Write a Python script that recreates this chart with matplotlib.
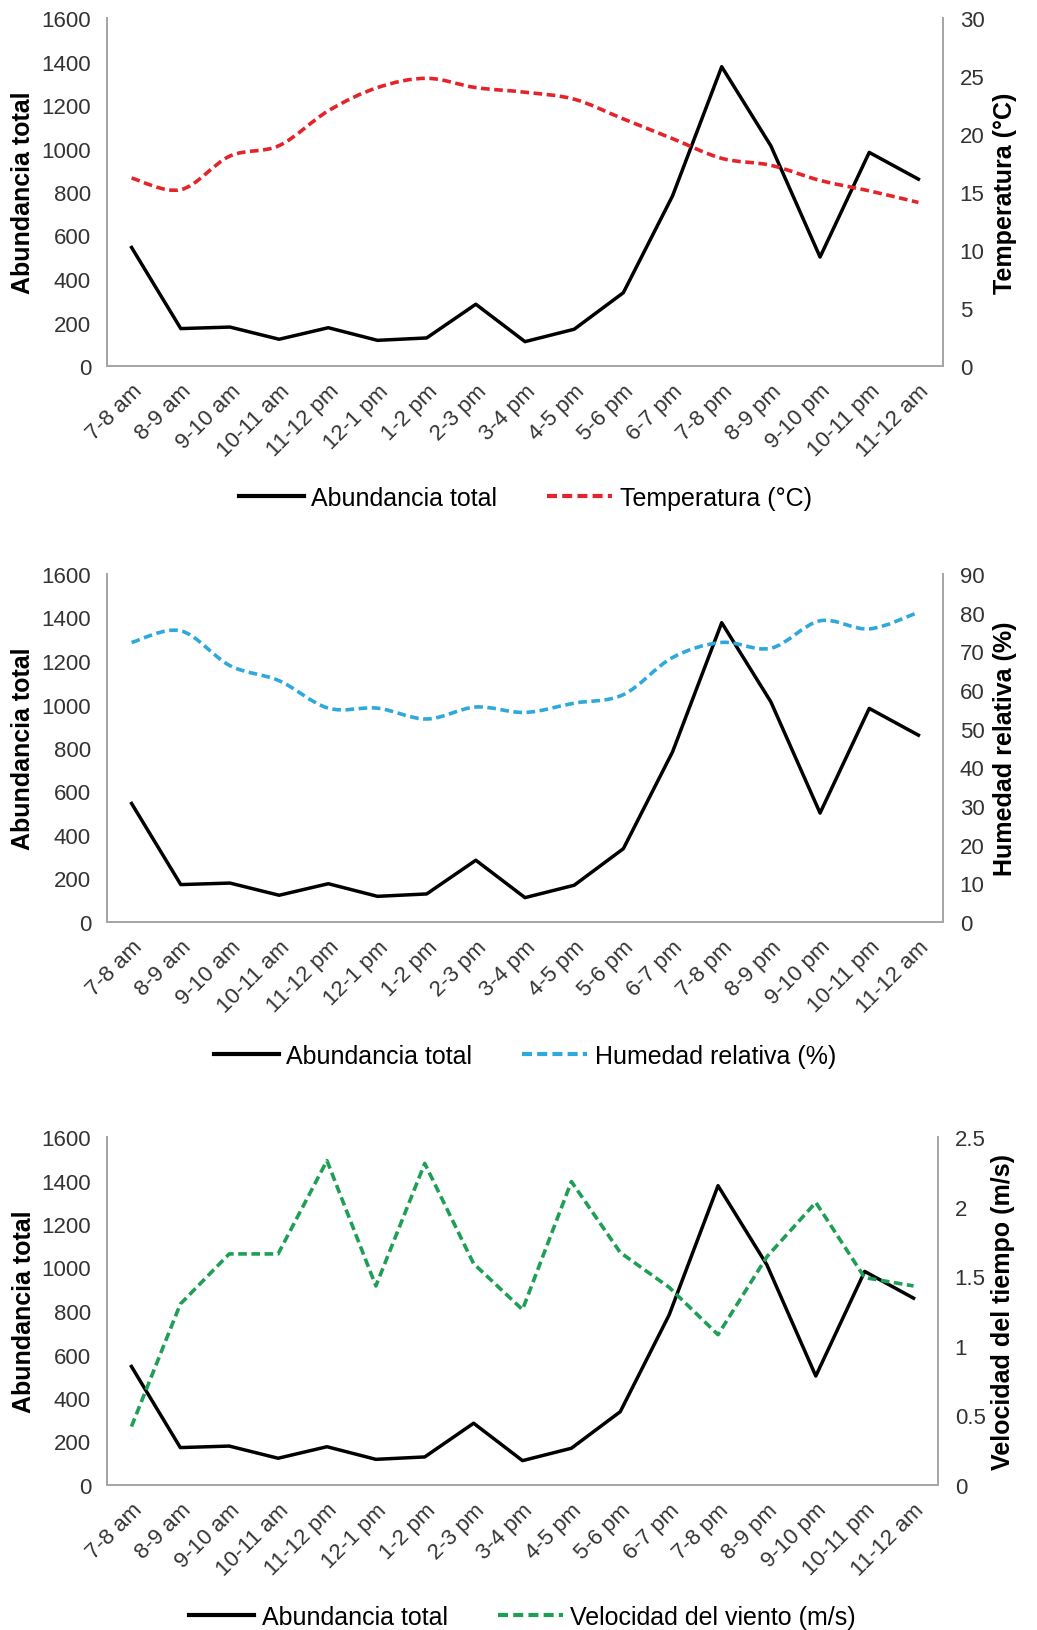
import numpy as np
import matplotlib
matplotlib.use("Agg")
import matplotlib.pyplot as plt
from matplotlib.path import Path
from matplotlib.patches import PathPatch
from matplotlib.lines import Line2D

plt.rcParams['font.family'] = ['Liberation Sans', 'DejaVu Sans']

# ---- data ----
horas = ["7-8 am", "8-9 am", "9-10 am", "10-11 am", "11-12 pm", "12-1 pm",
         "1-2 pm", "2-3 pm", "3-4 pm", "4-5 pm", "5-6 pm", "6-7 pm",
         "7-8 pm", "8-9 pm", "9-10 pm", "10-11 pm", "11-12 am"]

abundancia = [545, 172, 179, 123, 176, 118, 129, 284, 112, 169, 337,
              782, 1376, 1012, 501, 982, 859]

temperatura = [16.2, 15.2, 18.1, 19.0, 22.0, 24.0, 24.8, 24.0, 23.6, 23.0,
               21.3, 19.6, 17.9, 17.3, 16.0, 15.1, 14.1]

humedad = [72.3, 75.3, 66.3, 62.4, 55.3, 55.3, 52.5, 55.6, 54.2, 56.6,
           58.8, 68.4, 72.3, 70.8, 77.9, 75.8, 80.1]

viento = [0.42, 1.30, 1.66, 1.66, 2.33, 1.43, 2.31, 1.59, 1.26, 2.18,
          1.67, 1.42, 1.08, 1.64, 2.03, 1.49, 1.43]

GRIS = '#a6a6a6'
TXT = '#333333'
DASH = (0, (2.4, 1.25))


def curva_suave(ax, x, y, color, lw):
    # curva tipo Excel "línea suavizada" (Bezier por los puntos)
    x = np.asarray(x, float)
    y = np.asarray(y, float)
    pts = np.column_stack([x, y])
    verts = [pts[0]]
    codes = [Path.MOVETO]
    n = len(pts)
    for i in range(n - 1):
        p0 = pts[i - 1] if i > 0 else pts[i]
        p1 = pts[i]
        p2 = pts[i + 1]
        p3 = pts[i + 2] if i + 2 < n else pts[i + 1]
        c1 = p1 + (p2 - p0) / 6.0
        c2 = p2 - (p3 - p1) / 6.0
        verts += [c1, c2, p2]
        codes += [Path.CURVE4] * 3
    patch = PathPatch(Path(verts, codes), fill=False, edgecolor=color,
                      linewidth=lw, linestyle=DASH, capstyle='butt')
    ax.add_patch(patch)


def panel(rect, serie, color, ylim2, yticks2, ylabel2, leg_label, leg_y,
          suave, label_x2):
    ax = fig.add_axes(rect)
    x = np.arange(len(horas))
    ax.plot(x, abundancia, color='black', lw=2.5, zorder=3)
    ax.set_xlim(-0.5, len(horas) - 0.5)
    ax.set_ylim(0, 1600)
    ax.set_yticks(np.arange(0, 1601, 200))
    ax.set_xticks(x)
    ax.set_xticklabels(horas, rotation=45, ha='right', va='top',
                       rotation_mode='anchor')
    ax.tick_params(axis='both', length=0, labelsize=16, colors=TXT)
    ax.tick_params(axis='y', pad=11.5)
    ax.tick_params(axis='x', pad=10)
    ax.set_ylabel("Abundancia total", fontsize=18, fontweight='bold',
                  color='black')
    ax.yaxis.set_label_coords(-0.086, 0.5)

    ax2 = ax.twinx()
    if suave:
        curva_suave(ax2, x, serie, color, 2.6)
    else:
        ax2.plot(x, serie, color=color, lw=2.6, linestyle=DASH,
                 dash_capstyle='butt')
    ax2.set_ylim(*ylim2)
    ax2.set_yticks(yticks2)
    ax2.tick_params(axis='y', length=0, labelsize=16, colors=TXT, pad=12)
    ax2.set_ylabel(ylabel2, fontsize=18, fontweight='bold', color='black')
    ax2.yaxis.set_label_coords(label_x2, 0.5)

    for a in (ax, ax2):
        a.spines['top'].set_visible(False)
        for s in ('left', 'right', 'bottom'):
            a.spines[s].set_color(GRIS)
            a.spines[s].set_linewidth(1.3)

    handles = [Line2D([], [], color='black', lw=3),
               Line2D([], [], color=color, lw=3, linestyle=DASH,
                      dash_capstyle='butt')]
    ax.legend(handles, ["Abundancia total", leg_label], loc='center',
              bbox_to_anchor=(0.5, leg_y), ncol=2, frameon=False,
              fontsize=18, handlelength=2.6, handletextpad=0.3,
              columnspacing=2.0)
    return ax, ax2


fig = plt.figure(figsize=(10.37, 16.31), dpi=100)

H = 348 / 1631
panel([107 / 1037, 1 - 367 / 1631, 836 / 1037, H], temperatura, '#e3242b',
      (0, 30), np.arange(0, 31, 5), "Temperatura (°C)",
      "Temperatura (°C)", -0.38, True, 1.06)

panel([107 / 1037, 1 - 923 / 1631, 836 / 1037, H], humedad, '#2ea9da',
      (0, 90), np.arange(0, 91, 10), "Humedad relativa (%)",
      "Humedad relativa (%)", -0.385, True, 1.06)

ax3, ax3b = panel([107 / 1037, 1 - 1486 / 1631, 831 / 1037, H], viento,
                  '#1f9f55', (0, 2.5), [0, 0.5, 1, 1.5, 2, 2.5],
                  "Velocidad del tiempo (m/s)",
                  "Velocidad del viento (m/s)", -0.38, False, 1.064)
ax3b.set_yticklabels(["0", "0.5", "1", "1.5", "2", "2.5"])

fig.savefig("out.png", dpi=100)
